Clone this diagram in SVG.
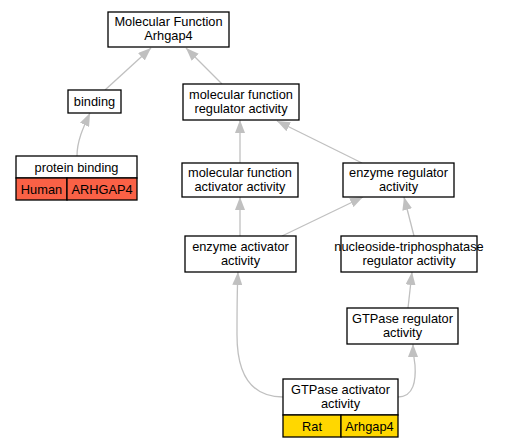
<svg xmlns="http://www.w3.org/2000/svg" width="517" height="448" viewBox="0 0 517 448">
<style>
.box{fill:#ffffff;stroke:#000000;stroke-width:1.3}
.cell{stroke:#000000;stroke-width:1.3}
.t{font-family:"Liberation Sans",Arial,sans-serif;font-size:12.8px;text-anchor:middle;fill:#000000}
.e{fill:none;stroke:#c0c0c0;stroke-width:1.3}
</style>
<defs>
<marker id="ah" markerUnits="userSpaceOnUse" markerWidth="13" markerHeight="10" refX="13" refY="5" orient="auto">
<path d="M0,0 L13,5 L0,10 z" fill="#c0c0c0"/>
</marker>
</defs>
<rect width="517" height="448" fill="#ffffff"/>
<g id="edges">
<path class="e" marker-end="url(#ah)" d="M105,90 L151,48"/>
<path class="e" marker-end="url(#ah)" d="M222,84 L186,48"/>
<path class="e" marker-end="url(#ah)" d="M77,156 C77,140 84,126 90,113"/>
<path class="e" marker-end="url(#ah)" d="M240,163 L240,120"/>
<path class="e" marker-end="url(#ah)" d="M362,163 L277,121"/>
<path class="e" marker-end="url(#ah)" d="M240,236 L240,197"/>
<path class="e" marker-end="url(#ah)" d="M282,236 L363,197"/>
<path class="e" marker-end="url(#ah)" d="M414,236 L404,197"/>
<path class="e" marker-end="url(#ah)" d="M408,308 L412,272"/>
<path class="e" marker-end="url(#ah)" d="M283,397 C252,397 237,375 237,335 C237,310 237,290 238,272"/>
<path class="e" marker-end="url(#ah)" d="M398,397 C414,397 416,380 415,365 C414,358 413,352 413,344"/>
</g>
<g id="n_mf">
<rect class="box" x="108" y="12" width="121" height="35"/>
<text class="t" x="168.5" y="25.5">Molecular Function</text>
<text class="t" x="168.5" y="39.5">Arhgap4</text>
</g>
<g id="n_binding">
<rect class="box" x="68" y="90" width="53" height="23"/>
<text class="t" x="94.5" y="106">binding</text>
</g>
<g id="n_mfra">
<rect class="box" x="183" y="84" width="116" height="36"/>
<text class="t" x="241" y="98.5">molecular function</text>
<text class="t" x="241" y="112.5">regulator activity</text>
</g>
<g id="n_pb">
<rect class="box" x="16" y="156" width="121" height="22"/>
<rect class="cell" x="16" y="178" width="51" height="22" fill="#fa6146"/>
<rect class="cell" x="67" y="178" width="70" height="22" fill="#fa6146"/>
<text class="t" x="76.5" y="171.5">protein binding</text>
<text class="t" x="41.5" y="193.5">Human</text>
<text class="t" x="102" y="193.5">ARHGAP4</text>
</g>
<g id="n_mfaa">
<rect class="box" x="182" y="163" width="116" height="34"/>
<text class="t" x="240" y="177">molecular function</text>
<text class="t" x="240" y="191">activator activity</text>
</g>
<g id="n_era">
<rect class="box" x="343" y="163" width="111" height="34"/>
<text class="t" x="398.5" y="177">enzyme regulator</text>
<text class="t" x="398.5" y="191">activity</text>
</g>
<g id="n_eaa">
<rect class="box" x="185" y="236" width="111" height="36"/>
<text class="t" x="240.5" y="250.5">enzyme activator</text>
<text class="t" x="240.5" y="264.5">activity</text>
</g>
<g id="n_ntra">
<rect class="box" x="341" y="236" width="136" height="36"/>
<text class="t" x="409" y="250.5">nucleoside-triphosphatase</text>
<text class="t" x="409" y="264.5">regulator activity</text>
</g>
<g id="n_gtpreg">
<rect class="box" x="347" y="308" width="111" height="36"/>
<text class="t" x="402.5" y="322.5">GTPase regulator</text>
<text class="t" x="402.5" y="336.5">activity</text>
</g>
<g id="n_gtpact">
<rect class="box" x="283" y="379" width="115" height="36"/>
<rect class="cell" x="283" y="415" width="58" height="22" fill="#ffd700"/>
<rect class="cell" x="341" y="415" width="57" height="22" fill="#ffd700"/>
<text class="t" x="340.5" y="393.5">GTPase activator</text>
<text class="t" x="340.5" y="407.5">activity</text>
<text class="t" x="312" y="430.5">Rat</text>
<text class="t" x="369.5" y="430.5">Arhgap4</text>
</g>
</svg>
